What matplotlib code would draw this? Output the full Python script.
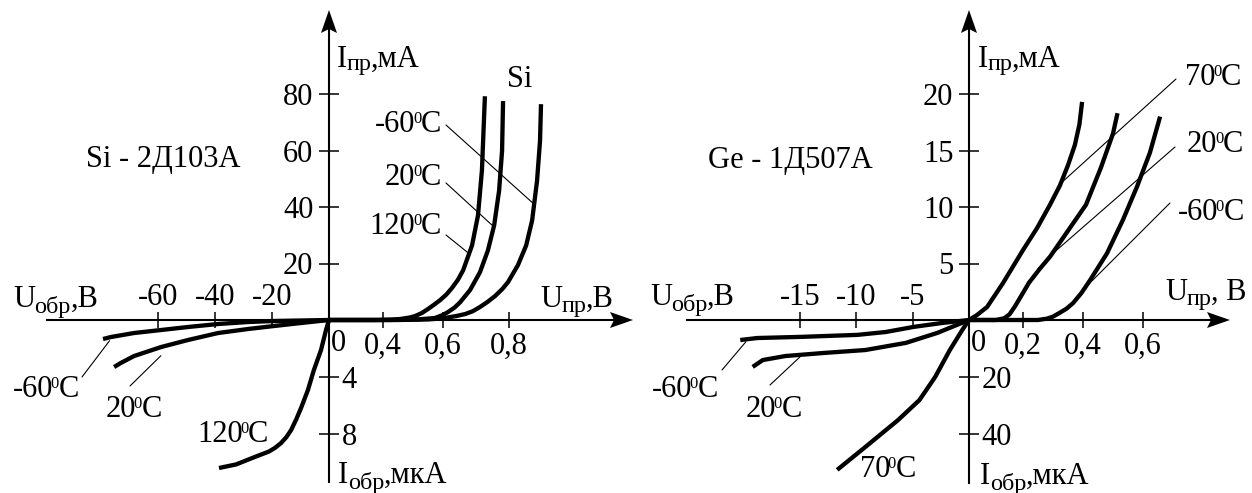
import numpy as np
import matplotlib
matplotlib.use('Agg')
import matplotlib.pyplot as plt
from matplotlib.lines import Line2D
from matplotlib.patches import Polygon

plt.rcParams['font.family'] = ['Liberation Serif', 'DejaVu Serif']

# ---------------- DATA: Si diode 2D103A ----------------
# forward branch: U (V), I (mA)
si_fwd_V_m60 = [0, 0.45, 0.55, 0.60, 0.64, 0.667, 0.69, 0.712, 0.735, 0.758, 0.78, 0.797, 0.827, 0.852, 0.870, 0.885, 0.894, 0.897]
si_fwd_I_m60 = [0, 0, 0.2, 0.6, 1.4, 2.1, 3.1, 4.6, 6.4, 8.5, 11, 13.4, 19.4, 26.4, 35.2, 49.3, 63.4, 76.4]
si_fwd_V_20 = [0, 0.42, 0.52, 0.573, 0.60, 0.615, 0.635, 0.652, 0.682, 0.712, 0.736, 0.755, 0.770, 0.779, 0.782]
si_fwd_I_20 = [0, 0, 0.25, 0.7, 1.8, 2.8, 4.4, 6.3, 10.6, 16.9, 24.6, 33.5, 45.8, 59.9, 77.5]
si_fwd_V_120 = [0, 0.35, 0.43, 0.457, 0.49, 0.507, 0.53, 0.55, 0.57, 0.59, 0.61, 0.627, 0.645, 0.661, 0.688, 0.706, 0.718, 0.727]
si_fwd_I_120 = [0, 0, 0.15, 0.35, 0.9, 1.4, 2.5, 3.9, 5.4, 7.0, 9.0, 11.3, 14.2, 17.6, 26.4, 37, 53, 79.2]
# reverse branch: U (V), I (uA, magnitude)
si_rev_V_m60 = [0, -19.3, -28.4, -38.9, -49.5, -58.9, -68.4, -76.5, -79.3]
si_rev_I_m60 = [0, 0.07, 0.14, 0.28, 0.49, 0.70, 0.91, 1.19, 1.33]
si_rev_V_20 = [0, -9.8, -19.3, -28.4, -38.9, -49.5, -58.9, -68.4, -73.0, -75.4]
si_rev_I_20 = [0, 0.21, 0.42, 0.63, 0.91, 1.40, 1.89, 2.52, 3.0, 3.29]
si_rev_V_120 = [0, -1.05, -2.8, -5.3, -7.4, -9.8, -11.5, -13.3, -15.0, -16.8, -19.0, -21.1, -26.3, -32.6, -38.6]
si_rev_I_120 = [0, 0.70, 2.1, 3.5, 4.9, 6.15, 6.95, 7.7, 8.2, 8.6, 8.95, 9.2, 9.6, 10.1, 10.35]

si_fwd_V_ticks = [0.4, 0.6, 0.8]
si_fwd_V_labels = ['0,4', '0,6', '0,8']
si_fwd_I_ticks = [20, 40, 60, 80]
si_rev_V_ticks = [-60, -40, -20]
si_rev_V_labels = ['-60', '-40', '-20']
si_rev_I_ticks = [4, 8]

# ---------------- DATA: Ge diode 1D507A ----------------
ge_fwd_V_70 = [0, 0.0296, 0.067, 0.126, 0.2, 0.247, 0.29, 0.323, 0.35, 0.373, 0.388, 0.397]
ge_fwd_I_70 = [0, 0.44, 1.15, 3.27, 6.19, 8.14, 10.2, 11.9, 13.7, 15.5, 17.3, 19.3]
ge_fwd_V_20 = [0, 0.10, 0.13, 0.15, 0.17, 0.195, 0.22, 0.255, 0.29, 0.35, 0.41, 0.46, 0.50, 0.515]
ge_fwd_I_20 = [0, 0, 0.15, 0.5, 1.2, 2.2, 3.3, 4.5, 5.6, 7.9, 10.2, 13.5, 16.5, 18.3]
ge_fwd_V_m60 = [0, 0.25, 0.28, 0.30, 0.32, 0.345, 0.367, 0.395, 0.423, 0.48, 0.533, 0.58, 0.623, 0.657]
ge_fwd_I_m60 = [0, 0, 0.12, 0.3, 0.6, 1.0, 1.5, 2.4, 3.5, 5.9, 8.85, 11.8, 14.8, 18.0]
ge_rev_V_m60 = [0, -2.4, -4.9, -7.4, -9.9, -14.9, -18.8, -20.3]
ge_rev_I_m60 = [0, 1.05, 2.4, 4.2, 5.2, 5.9, 6.3, 7.0]
ge_rev_V_20 = [0, -2.8, -5.6, -9.2, -12.8, -16.3, -18.3, -19.2]
ge_rev_I_20 = [0, 4.5, 8.0, 10.5, 11.5, 12.6, 14.0, 16.4]
ge_rev_V_70 = [0, -0.6, -1.7, -3.0, -4.4, -6.3, -9.2, -11.7]
ge_rev_I_70 = [0, 3.5, 10.5, 19.9, 28.0, 35.0, 44.4, 52.4]

ge_fwd_V_ticks = [0.2, 0.4, 0.6]
ge_fwd_V_labels = ['0,2', '0,4', '0,6']
ge_fwd_I_ticks = [5, 10, 15, 20]
ge_rev_V_ticks = [-15, -10, -5]
ge_rev_V_labels = ['-15', '-10', '-5']
ge_rev_I_ticks = [20, 40]

# ---------------- LAYOUT ----------------
W, H = 1252, 493
fig = plt.figure(figsize=(W / 100, H / 100), dpi=100)
renderer = fig.canvas.get_renderer()
FS = 22
SUB = 17.5
SUP = 12
CURVE_LW = 3.1
AX_LW = 1.5


def piecewise(a, b):
    a = np.asarray(a, float)
    b = np.asarray(b, float)
    s0 = (b[1] - b[0]) / (a[1] - a[0])
    s1 = (b[-1] - b[-2]) / (a[-1] - a[-2])

    def f(v):
        v = np.asarray(v, float)
        out = np.interp(v, a, b)
        out = np.where(v < a[0], b[0] + (v - a[0]) * s0, out)
        out = np.where(v > a[-1], b[-1] + (v - a[-1]) * s1, out)
        return out
    return f


def scale_funcs(vals, pix):
    return piecewise(vals, pix), piecewise(pix, vals)


def add_ax(x0, y0, x1, y1):
    ax = fig.add_axes([x0 / W, 1 - y1 / H, (x1 - x0) / W, (y1 - y0) / H])
    ax.patch.set_visible(False)
    for s in ax.spines.values():
        s.set_visible(False)
    return ax


def fp(x, y):
    return (x / W, 1 - y / H)


def fline(x0, y0, x1, y1, lw=AX_LW):
    fig.add_artist(Line2D([x0 / W, x1 / W], [1 - y0 / H, 1 - y1 / H],
                          transform=fig.transFigure, color='black', lw=lw,
                          solid_capstyle='butt'))


def arrow_head(tipx, tipy, direction):
    L, hw, notch = 23, 8, 4
    if direction == 'up':
        pts = [(tipx, tipy), (tipx + hw, tipy + L), (tipx, tipy + L - notch),
               (tipx - hw, tipy + L)]
    else:
        pts = [(tipx, tipy), (tipx - L, tipy - hw), (tipx - L + notch, tipy),
               (tipx - L, tipy + hw)]
    fig.add_artist(Polygon([fp(*p) for p in pts], closed=True,
                           transform=fig.transFigure, color='black', lw=0))


def rich(x, y, parts, ha='left', gaps=None):
    """parts: list of (string, fontsize, dy_px_down)."""
    widths = []
    for s, size, dy in parts:
        t = fig.text(0, 0, s, fontsize=size)
        widths.append(t.get_window_extent(renderer).width)
        t.remove()
    if gaps is None:
        gaps = [1.0] * (len(parts) - 1)
    total = sum(widths) + sum(gaps)
    if ha == 'right':
        x0 = x - total
    elif ha == 'center':
        x0 = x - total / 2
    else:
        x0 = x
    for i, ((s, size, dy), w) in enumerate(zip(parts, widths)):
        fig.text(x0 / W, 1 - (y + dy) / H, s, fontsize=size,
                 ha='left', va='baseline')
        x0 += w + (gaps[i] if i < len(gaps) else 0)


def temp(x, y, num, ha='left'):
    rich(x, y, [(num, FS, 0), ('0', SUP, -9), ('C', FS, 0)], ha=ha,
         gaps=[-2.5, -0.5])


def sub(x, y, main, low, tail, dy=5):
    rich(x, y, [(main, FS, 0), (low, SUB, dy), (tail, FS, 0)],
         gaps=[-0.5, -0.5])


def leader(ax, xy, px, py):
    ax.annotate('', xy=xy, xycoords='data', xytext=(px, H - py),
                textcoords='figure pixels',
                arrowprops=dict(arrowstyle='-', lw=0.8, color='black',
                                shrinkA=0, shrinkB=0), annotation_clip=False)


def build_chart(ox, oy, xl, xr, yt, yb,
                fwdx, fwdy, revx, revy,
                fwd_curves, rev_curves,
                fxt, fxl, fyt, rxt, rxl, ryt):
    # forward quadrant
    af = add_ax(ox, yt, xr, oy)
    f, fi = scale_funcs(*fwdx)
    af.set_xscale('function', functions=(f, fi))
    af.set_xlim(0, float(fi(xr - ox)))
    g, gi = scale_funcs(*fwdy)
    af.set_yscale('function', functions=(g, gi))
    af.set_ylim(0, float(gi(oy - yt)))
    af.set_xticks(fxt)
    af.set_xticklabels(fxl)
    af.set_yticks(fyt)
    af.set_yticklabels([str(t) for t in fyt])
    af.tick_params(axis='x', direction='inout', length=11.5, width=1.1,
                   pad=2.5, labelsize=FS)
    af.tick_params(axis='y', direction='inout', length=14.4, width=1.1,
                   pad=4.0, labelsize=FS)
    af.minorticks_off()
    for V, I in fwd_curves:
        af.plot(V, I, color='black', lw=CURVE_LW, clip_on=False,
                solid_capstyle='butt', solid_joinstyle='round')
    # reverse quadrant
    ar = add_ax(xl, oy, ox, yb)
    f, fi = scale_funcs(*revx)
    ar.set_xscale('function', functions=(f, fi))
    ar.set_xlim(float(fi(-(ox - xl))), 0)
    g, gi = scale_funcs(*revy)
    ar.set_yscale('function', functions=(g, gi))
    ar.set_ylim(float(gi(yb - oy)), 0)
    ar.xaxis.tick_top()
    ar.yaxis.tick_right()
    ar.set_xticks(rxt)
    ar.set_xticklabels(rxl)
    ar.set_yticks(ryt)
    ar.set_yticklabels([str(t) for t in ryt])
    ar.tick_params(axis='x', direction='inout', length=11.5, width=1.1,
                   pad=0.0, labelsize=FS)
    ar.tick_params(axis='y', direction='inout', length=14.4, width=1.1,
                   pad=2.0, labelsize=FS)
    ar.minorticks_off()
    for V, I in rev_curves:
        ar.plot(V, I, color='black', lw=CURVE_LW, clip_on=False,
                solid_capstyle='butt', solid_joinstyle='round')
    # axis lines with arrows
    fline(xl, oy, xr - 15, oy)
    fline(ox, yb, ox, yt + 15)
    arrow_head(xr + 3, oy, 'right')
    arrow_head(ox, yt - 4, 'up')
    return af, ar


# ---- Si chart
af1, ar1 = build_chart(
    329, 320, 46, 630, 14, 483,
    ([0, 0.4, 0.6, 0.8], [0, 54, 114, 180]), ([0, 80], [0, 226]),
    ([-60, 0], [-171, 0]), ([0, 8], [0, 114.4]),
    [(si_fwd_V_m60, si_fwd_I_m60), (si_fwd_V_20, si_fwd_I_20),
     (si_fwd_V_120, si_fwd_I_120)],
    [(si_rev_V_m60, si_rev_I_m60), (si_rev_V_20, si_rev_I_20),
     (si_rev_V_120, si_rev_I_120)],
    si_fwd_V_ticks, si_fwd_V_labels, si_fwd_I_ticks,
    si_rev_V_ticks, si_rev_V_labels, si_rev_I_ticks)

# ---- Ge chart
af2, ar2 = build_chart(
    969, 320, 686, 1227, 14, 484,
    ([0, 0.2, 0.4, 0.6], [0, 54, 114, 174]), ([0, 20], [0, 226]),
    ([-15, 0], [-169, 0]), ([0, 40], [0, 114.4]),
    [(ge_fwd_V_70, ge_fwd_I_70), (ge_fwd_V_20, ge_fwd_I_20),
     (ge_fwd_V_m60, ge_fwd_I_m60)],
    [(ge_rev_V_m60, ge_rev_I_m60), (ge_rev_V_20, ge_rev_I_20),
     (ge_rev_V_70, ge_rev_I_70)],
    ge_fwd_V_ticks, ge_fwd_V_labels, ge_fwd_I_ticks,
    ge_rev_V_ticks, ge_rev_V_labels, ge_rev_I_ticks)

# ---- texts: Si
rich(86, 167, [('Si - 2Д103А', FS, 0)])
sub(337, 67, 'I', 'пр', ',мА', dy=3)
rich(507, 87, [('Si', FS, 0)])
temp(441, 132, '-60', ha='right')
temp(441, 185, '20', ha='right')
temp(441, 234, '120', ha='right')
sub(13, 307, 'U', 'обр', ',В', dy=6)
sub(540, 307, 'U', 'пр', ',В', dy=5)
rich(338, 351, [('0', FS, 0)], ha='center')
sub(338, 483, 'I', 'обр', ',мкА', dy=6)
temp(13, 397, '-60')
temp(106, 417, '20')
temp(197, 442, '120')
leader(af1, (0.876, 41), 446, 125)
leader(af1, (0.754, 33), 446, 183)
leader(af1, (0.679, 23.5), 446, 235)
leader(ar1, (-77, 1.45), 82, 377)
leader(ar1, (-59, 2.5), 130, 386)

# ---- texts: Ge
rich(708, 168, [('Ge - 1Д507А', FS, 0)])
sub(978, 67, 'I', 'пр', ',мА', dy=3)
temp(1185, 85, '70')
temp(1187, 152, '20')
temp(1178, 220, '-60')
sub(1165, 300, 'U', 'пр', ', В', dy=5)
sub(650, 305, 'U', 'обр', ',В', dy=6)
rich(978, 351, [('0', FS, 0)], ha='center')
sub(980, 484, 'I', 'обр', ',мкА', dy=6)
temp(652, 397, '-60')
temp(746, 417, '20')
temp(860, 477, '70')
leader(af2, (0.322, 12.0), 1176, 79)
leader(af2, (0.30, 5.9), 1175, 147)
leader(af2, (0.39, 2.4), 1170, 203)
leader(ar2, (-19.8, 7.6), 722, 370)
leader(ar2, (-15.0, 12.9), 770, 385)

fig.savefig('out.png', dpi=100, facecolor='white')
